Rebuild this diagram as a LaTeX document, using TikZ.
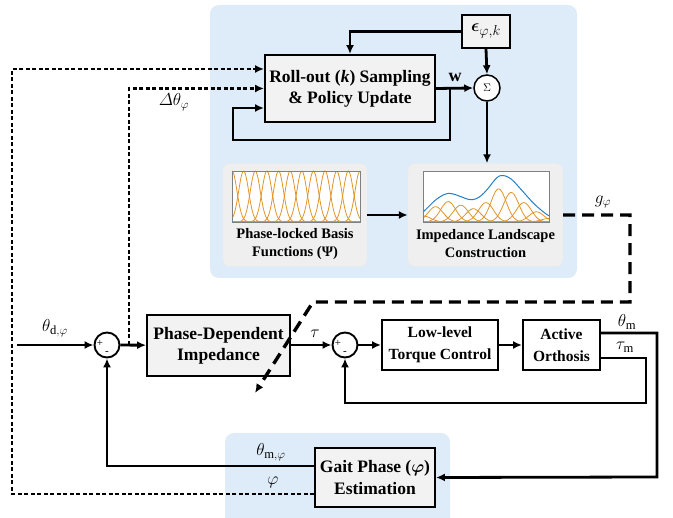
\documentclass[tikz,border=0pt]{standalone}
\usepackage{amsmath,bm}
\usepackage{fontspec}
\setmainfont{Liberation Serif}
\usetikzlibrary{arrows.meta,positioning}

\definecolor{panelblue}{RGB}{222,235,248}
\definecolor{boxgray}{RGB}{242,242,242}
\definecolor{cardgray}{RGB}{239,239,239}
\definecolor{basisorange}{RGB}{226,148,38}
\definecolor{sumblue}{RGB}{38,128,198}

\begin{document}
\begin{tikzpicture}[x=1pt, y=-1pt,
		>={Latex[length=9pt,width=8pt]},
		block/.style={draw, line width=1.9pt, fill=boxgray, align=center,
				inner sep=0pt, font=\fontsize{17.5}{21}\selectfont\bfseries},
		lowblock/.style={block, fill=white, font=\fontsize{15.5}{22}\selectfont\bfseries},
		sumnode/.style={circle, draw, line width=1.9pt, fill=white,
				minimum size=25pt, inner sep=0pt},
		card/.style={fill=cardgray, draw=black!8, rounded corners=7pt},
		cardtext/.style={align=center, font=\fontsize{14.5}{18}\selectfont\bfseries},
		sig/.style={line width=2.8pt},
		dotsig/.style={line width=2.2pt, dash pattern=on 4pt off 2.5pt},
		gainsig/.style={line width=3.4pt, dash pattern=on 12pt off 7pt},
		lbl/.style={font=\fontsize{18}{20}\selectfont},
		sgn/.style={font=\fontsize{11}{11}\selectfont, inner sep=0pt},
		declare function={gbump(\t,\m)=exp(-((\t-\m)*(\t-\m))/0.0072);}
	]
	\useasboundingbox (0,0) rectangle (673,518);

	% shaded areas
	\fill[panelblue, rounded corners=9pt] (210,5) rectangle (577,278);
	\fill[panelblue, rounded corners=9pt] (225,433) rectangle (450,530);

	% learning part
	\node[block, minimum width=170pt, minimum height=67pt] (roll) at (350,88.5)
	{Roll-out (\textit{k}) Sampling\\\& Policy Update};
	\node[block, minimum width=48pt, minimum height=33pt, font=\fontsize{19}{20}\selectfont]
	(eps) at (486,31.5) {$\boldsymbol{\epsilon}_{\varphi,k}$};
	\node[sumnode, minimum size=26pt, line width=1.5pt] (sum) at (487,88)
	{\fontsize{11}{11}\selectfont$\Sigma$};

	\node[card, minimum width=144pt, minimum height=103pt] (basis) at (295,215) {};
	\node[card, minimum width=155pt, minimum height=103pt] (land) at (485.5,215) {};
	\node[cardtext] (basistxt) at (295,244) {Phase-locked Basis\\Functions (Ψ)};
	\node[cardtext] (landtxt) at (485.5,244) {Impedance Landscape\\Construction};

	% basis functions
	\begin{scope}[shift={(232pt,-222pt)}, x=128pt, y=51pt]
		\fill[white] (0,0) rectangle (1,1);
		\begin{scope}
			\clip (0,0) rectangle (1,1);
			\foreach \ci in {0,1,...,11} {
					\draw[basisorange, line width=0.8pt] plot[domain=0:1, samples=70, smooth]
					(\x, {exp(-((\x-\ci/11)*(\x-\ci/11))/0.003)});
				}
		\end{scope}
		\draw[gray, line width=0.6pt] (0,0) rectangle (1,1);
	\end{scope}

	% weighted sum
	\begin{scope}[shift={(423pt,-222pt)}, x=126pt, y=51pt]
		\fill[white] (0,0) rectangle (1,1);
		\foreach \ci/\w in {0/0.12, 0.1/0.3, 0.2/0.4, 0.3/0.33, 0.4/0.26, 0.5/0.38,
				0.6/0.65, 0.7/0.58, 0.8/0.38, 0.9/0.2, 1/0.07} {
				\draw[basisorange, line width=0.8pt] plot[domain=0:1, samples=70, smooth]
				(\x, {\w*gbump(\x,\ci)});
			}
		\draw[sumblue, line width=1pt] plot[domain=0:1, samples=90, smooth]
		(\x, {0.12*gbump(\x,0)+0.3*gbump(\x,0.1)+0.4*gbump(\x,0.2)+0.33*gbump(\x,0.3)
				+0.26*gbump(\x,0.4)+0.38*gbump(\x,0.5)+0.65*gbump(\x,0.6)+0.58*gbump(\x,0.7)
				+0.38*gbump(\x,0.8)+0.2*gbump(\x,0.9)+0.07*gbump(\x,1)});
		\draw[gray, line width=0.6pt] (0,0) rectangle (1,1);
	\end{scope}

	% control loop
	\coordinate (in) at (17,345);
	\node[sumnode] (sum1) at (107,345) {};
	\node[block, minimum width=143pt, minimum height=61pt] (imp) at (218.5,345.5)
	{Phase-Dependent\\Impedance};
	\node[sumnode] (sum2) at (345,345) {};
	\node[lowblock, minimum width=116pt, minimum height=50pt] (low) at (440,345)
	{Low-level\\Torque Control};
	\node[lowblock, minimum width=77pt, minimum height=50pt] (orth) at (561.5,345)
	{Active\\Orthosis};
	\node[block, minimum width=120pt, minimum height=59pt, font=\fontsize{17.5}{22}\selectfont\bfseries]
	(gait) at (375,477.5) {Gait Phase (\textit{$\boldsymbol{\varphi}$})\\Estimation};

	\node[sgn] (p1) at (100,343) {+};
	\node[sgn] (m1) at (107,353) {-};
	\node[sgn] (p2) at (338,343) {+};
	\node[sgn] (m2) at (345,353) {-};

	% solid signals
	\draw[sig, ->] (in) -- (sum1);
	\draw[sig, ->] (sum1) -- (imp);
	\draw[sig, ->] (imp.east |- sum2) -- (sum2);
	\draw[sig, ->] (sum2) -- (low);
	\draw[sig, ->] (low) -- (orth);
	\draw[sig, ->] ([yshift=12pt]orth.east) -- (657,333) -- (657,477) -- (gait.east);
	\draw[sig, ->] ([yshift=-13pt]orth.east) -- (646,358) -- (646,403) -| (sum2.south);
	\draw[sig, ->] ([yshift=11.5pt]gait.west) -| (sum1.south);

	\draw[sig, ->] (eps.west) -| (roll.north);
	\draw[sig, ->] (eps.south) -- (sum.north);
	\draw[sig, ->] (roll.east) -- (sum.west);
	\coordinate (wtap) at (450,88.5);
	\draw[sig, ->] (wtap) -- (450,140) -- (233,140) -- (233,108) -- ([yshift=-19.5pt]roll.west);
	\draw[sig, ->] (sum.south) -- (sum.south |- land.north);
	\draw[sig, ->] (basis.east) -- (land.west);

	% dashed signals
	\coordinate (tap) at (129,345);
	\draw[dotsig, ->] (tap) |- (roll.west);
	\draw[dotsig, ->] ([yshift=-16.5pt]gait.west) -| (12,69) -- ([yshift=19.5pt]roll.west);
	\coordinate (gaintip) at (255,393);
	\draw[gainsig, ->] (land.east) -- (630,215) -- (630,302) -- (313,302) -- (gaintip);

	% labels
	\node[lbl] (thd) at (55,328) {$\theta_{\mathrm{d},\varphi}$};
	\node[lbl] (dth) at (174,102) {$\varDelta\theta_\varphi$};
	\node[lbl] (w) at (455,77) {$\mathbf{w}$};
	\node[lbl] (tau) at (315,334) {$\tau$};
	\node[lbl] (thm) at (627,322) {$\theta_{\mathrm{m}}$};
	\node[lbl] (taum) at (625,347) {$\tau_{\mathrm{m}}$};
	\node[lbl] (gphi) at (603,202) {$g_\varphi$};
	\node[lbl] (thmphi) at (271,452) {$\theta_{\mathrm{m},\varphi}$};
	\node[lbl] (phi) at (273,482) {$\varphi$};
\end{tikzpicture}
\end{document}
